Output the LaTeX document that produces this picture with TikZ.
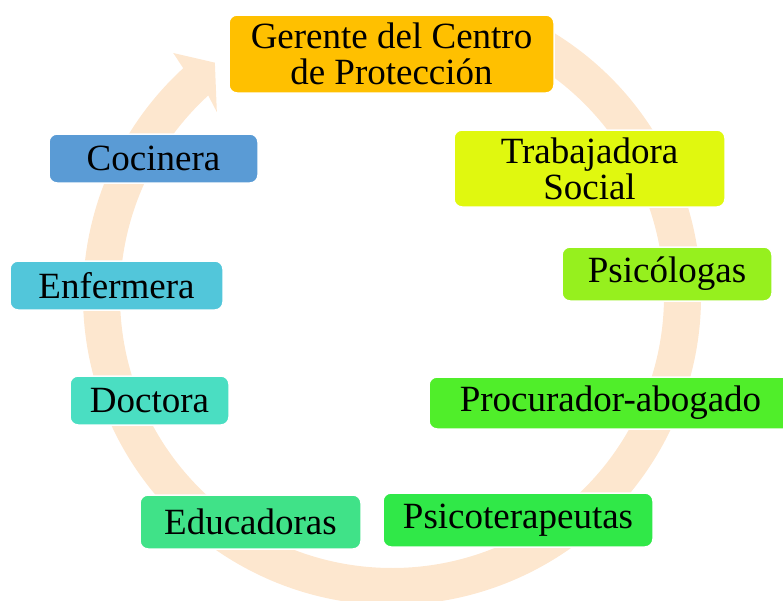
\documentclass[tikz,border=0pt]{standalone}
\usepackage{fontspec}
\setmainfont{Liberation Serif}
\usepackage{tikz}

\definecolor{anillo}{RGB}{253,231,207}
\definecolor{cGerente}{RGB}{255,192,0}
\definecolor{cTrabajadora}{RGB}{224,248,15}
\definecolor{cPsicologas}{RGB}{150,240,30}
\definecolor{cProcurador}{RGB}{80,238,42}
\definecolor{cPsicoterapeutas}{RGB}{48,232,72}
\definecolor{cEducadoras}{RGB}{64,226,136}
\definecolor{cDoctora}{RGB}{74,222,194}
\definecolor{cEnfermera}{RGB}{82,198,218}
\definecolor{cCocinera}{RGB}{90,155,213}

\tikzset{caja/.style={draw=white,line width=1.5pt,rounded corners=8pt,inner sep=0pt,
	align=center,text=black,font=\fontsize{37}{36}\selectfont}}

\begin{document}
\begin{tikzpicture}[x=1pt,y=-1pt]
			\useasboundingbox (0,0) rectangle (783,600);
			\clip (0,0) rectangle (783,600);
			% flecha circular de fondo
			\begin{scope}[shift={(392,296)},y=1pt]
			\fill[anillo](60:309)arc[start angle=60,end angle=-227.5,radius=309]
				--(-228:327)--(-232.8:293)--(-226.4:254)--(-227.5:272)
				arc[start angle=-227.5,end angle=60,radius=272]--cycle;
			\end{scope}
			% cajas
			\node[caja,fill=cGerente,minimum width=325pt,minimum height=78pt](gerente)at(391.5,54){Gerente del Centro\\de Protección};
			\node[caja,fill=cTrabajadora,minimum width=271pt,minimum height=77pt](trabajadora)at(589.5,168.5){Trabajadora\\Social};
			\node[caja,fill=cPsicologas,minimum width=210pt,minimum height=54pt](psicologas)at(667,274){Psicólogas};
			\node[caja,fill=cProcurador,minimum width=363pt,minimum height=52pt](procurador)at(610.5,403){Procurador-abogado};
			\node[caja,fill=cPsicoterapeutas,minimum width=270pt,minimum height=54pt](psicoterapeutas)at(518,520){Psicoterapeutas};
			\node[caja,fill=cEducadoras,minimum width=221pt,minimum height=54pt](educadoras)at(250.5,522){Educadoras};
			\node[caja,fill=cDoctora,minimum width=159pt,minimum height=49pt](doctora)at(149.5,400.5){Doctora};
			\node[caja,fill=cEnfermera,minimum width=213pt,minimum height=49pt](enfermera)at(116.5,285.5){Enfermera};
			\node[caja,fill=cCocinera,minimum width=209pt,minimum height=49pt](cocinera)at(153.5,158.5){Cocinera};
\end{tikzpicture}
\end{document}
